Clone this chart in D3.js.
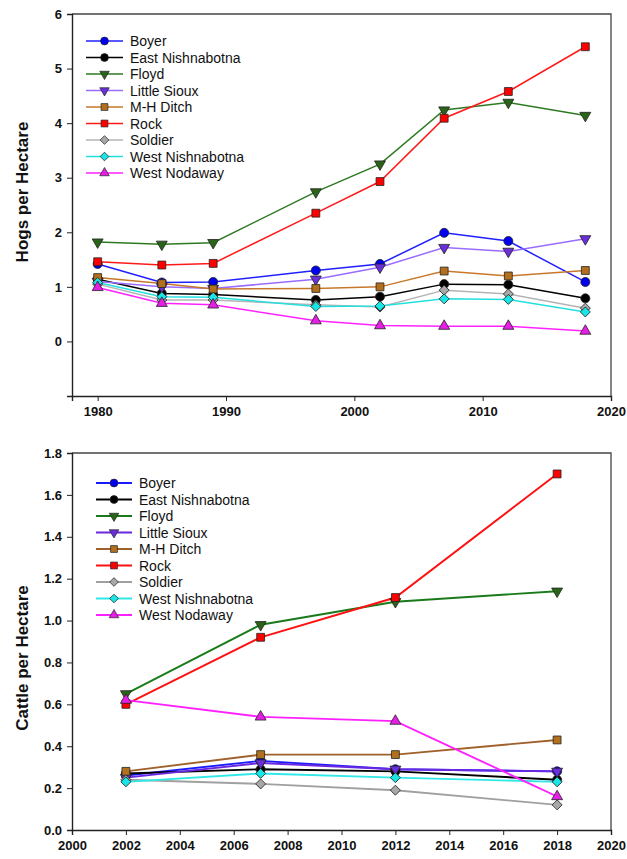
<!DOCTYPE html>
<html>
<head>
<meta charset="utf-8">
<script src="https://cdn.jsdelivr.net/npm/d3@7"></script>
<style>
  html, body { margin: 0; padding: 0; background: #fff; }
  svg { display: block; }
  text { font-family: "Liberation Sans", Arial, sans-serif; }
</style>
</head>
<body>
<svg id="chart" width="627" height="859"></svg>
<script>
// Watershed names, in legend order
const watersheds = ["Boyer", "East Nishnabotna", "Floyd", "Little Sioux", "M-H Ditch",
  "Rock", "Soldier", "West Nishnabotna", "West Nodaway"];

// Hog density (hogs per hectare) by census year
const hogYears = [1980, 1985, 1989, 1997, 2002, 2007, 2012, 2018];
const hogsBoyer           = [1.42, 1.08, 1.09, 1.30, 1.42, 1.99, 1.84, 1.09];
const hogsEastNishnabotna = [1.14, 0.88, 0.86, 0.76, 0.82, 1.05, 1.04, 0.79];
const hogsFloyd           = [1.82, 1.78, 1.81, 2.74, 3.25, 4.24, 4.38, 4.14];
const hogsLittleSioux     = [1.10, 1.00, 0.97, 1.14, 1.36, 1.72, 1.65, 1.88];
const hogsMHDitch         = [1.17, 1.06, 0.96, 0.97, 1.00, 1.29, 1.20, 1.30];
const hogsRock            = [1.46, 1.40, 1.43, 2.35, 2.93, 4.09, 4.58, 5.40];
const hogsSoldier         = [1.05, 0.76, 0.76, 0.67, 0.63, 0.94, 0.87, 0.61];
const hogsWestNishnabotna = [1.08, 0.82, 0.81, 0.64, 0.65, 0.78, 0.77, 0.54];
const hogsWestNodaway     = [0.99, 0.70, 0.67, 0.38, 0.29, 0.28, 0.28, 0.19];

// Cattle density (cattle per hectare) by census year
const cattleYears = [2002, 2007, 2012, 2018];
const cattleBoyer           = [0.26, 0.33, 0.29, 0.28];
const cattleEastNishnabotna = [0.27, 0.29, 0.28, 0.24];
const cattleFloyd           = [0.65, 0.98, 1.09, 1.14];
const cattleLittleSioux     = [0.25, 0.32, 0.29, 0.28];
const cattleMHDitch         = [0.28, 0.36, 0.36, 0.43];
const cattleRock            = [0.60, 0.92, 1.11, 1.70];
const cattleSoldier         = [0.24, 0.22, 0.19, 0.12];
const cattleWestNishnabotna = [0.23, 0.27, 0.25, 0.23];
const cattleWestNodaway     = [0.62, 0.54, 0.52, 0.16];

// Axis tick values
const hogXTicks = [1980, 1990, 2000, 2010, 2020];
const hogYTicks = [0, 1, 2, 3, 4, 5, 6];
const cattleXTicks = [2000, 2002, 2004, 2006, 2008, 2010, 2012, 2014, 2016, 2018, 2020];
const cattleYTicks = [0, 0.2, 0.4, 0.6, 0.8, 1.0, 1.2, 1.4, 1.6, 1.8];

// Marker shape and fill per watershed
const markers = [
  { fill: "#0000ee", shape: "circle" },
  { fill: "#000000", shape: "circle" },
  { fill: "#2a6418", shape: "tridown" },
  { fill: "#6a2fd8", shape: "tridown" },
  { fill: "#b2701e", shape: "square" },
  { fill: "#ff0000", shape: "square" },
  { fill: "#a8a8a8", shape: "diamond" },
  { fill: "#18e6e6", shape: "diamond" },
  { fill: "#e61ee6", shape: "triangle" }
];
// Line colours for each panel
const hogLineColors = ["#2020ff", "#000000", "#2e7a22", "#9a6cff", "#c8782a",
  "#ff1a1a", "#b4b4b4", "#22e0e0", "#ff22ff"];
const cattleLineColors = ["#1a1aff", "#000000", "#1a7a1a", "#6a28e0", "#a0602a",
  "#ff1010", "#a0a0a0", "#30e8e8", "#ff20ff"];

const hogSeries = [hogsBoyer, hogsEastNishnabotna, hogsFloyd, hogsLittleSioux, hogsMHDitch,
  hogsRock, hogsSoldier, hogsWestNishnabotna, hogsWestNodaway];
const cattleSeries = [cattleBoyer, cattleEastNishnabotna, cattleFloyd, cattleLittleSioux, cattleMHDitch,
  cattleRock, cattleSoldier, cattleWestNishnabotna, cattleWestNodaway];

const svg = d3.select("#chart");

function symbolPath(shape, scale) {
  const k = scale || 1;
  switch (shape) {
    case "circle": return d3.symbol(d3.symbolCircle, 64 * k)();
    case "square": return d3.symbol(d3.symbolSquare, 62 * k)();
    case "diamond": return d3.symbol(d3.symbolSquare, 50 * k)();
    default: return d3.symbol(d3.symbolTriangle, 52 * k)();
  }
}
function symbolRotation(shape) {
  if (shape === "tridown") return 180;
  if (shape === "diamond") return 45;
  return 0;
}

function drawPanel(cfg) {
  const g = svg.append("g");
  const x = d3.scaleLinear().domain(cfg.xDomain).range([cfg.left, cfg.right]);
  const y = d3.scaleLinear().domain(cfg.yDomain).range([cfg.bottom, cfg.top]);

  // frame (top and right edges)
  g.append("path")
    .attr("d", `M${cfg.left},${cfg.top}H${cfg.right}V${cfg.bottom}`)
    .attr("fill", "none").attr("stroke", "#444").attr("stroke-width", 1.3);

  const xAxis = d3.axisBottom(x).tickValues(cfg.xTicks).tickSize(5).tickPadding(6)
    .tickFormat(d3.format("d"));
  const yAxis = d3.axisLeft(y).tickValues(cfg.yTicks).tickSize(5).tickPadding(5)
    .tickFormat(cfg.yFormat);

  const gx = g.append("g").attr("transform", `translate(0,${cfg.bottom})`).call(xAxis);
  const gy = g.append("g").attr("transform", `translate(${cfg.left},0)`).call(yAxis);
  [gx, gy].forEach(a => {
    a.select(".domain").attr("stroke", "#222").attr("stroke-width", 1.4);
    a.selectAll(".tick line").attr("stroke", "#222").attr("stroke-width", 1);
    a.selectAll(".tick text")
      .attr("fill", "#111")
      .style("font-family", "'Liberation Sans', Arial, sans-serif")
      .style("font-size", "13px").style("font-weight", "bold");
  });

  // y axis title
  g.append("text")
    .attr("transform", `translate(${cfg.titleX},${cfg.titleY}) rotate(-90)`)
    .attr("text-anchor", "middle")
    .style("font-size", "17px").style("font-weight", "bold").attr("fill", "#111")
    .text(cfg.title);

  // series lines then markers
  const line = d3.line().x((d, i) => x(cfg.years[i])).y(d => y(d));
  cfg.series.forEach((vals, s) => {
    g.append("path").datum(vals)
      .attr("d", line).attr("fill", "none")
      .attr("stroke", cfg.lineColors[s]).attr("stroke-width", cfg.lineWidth);
  });
  cfg.series.forEach((vals, s) => {
    g.selectAll(null).data(vals).join("path")
      .attr("d", symbolPath(markers[s].shape))
      .attr("transform", (d, i) => `translate(${x(cfg.years[i])},${y(d)}) rotate(${symbolRotation(markers[s].shape)})`)
      .attr("fill", markers[s].fill).attr("stroke", "#222").attr("stroke-width", 0.8);
  });

  // legend
  const lg = g.append("g");
  watersheds.forEach((name, s) => {
    const ly = cfg.legendY + s * cfg.legendStep;
    lg.append("line")
      .attr("x1", cfg.legendX0).attr("x2", cfg.legendX1)
      .attr("y1", ly).attr("y2", ly)
      .attr("stroke", cfg.lineColors[s]).attr("stroke-width", cfg.lineWidth);
    lg.append("path")
      .attr("d", symbolPath(markers[s].shape, 0.75))
      .attr("transform", `translate(${(cfg.legendX0 + cfg.legendX1) / 2},${ly}) rotate(${symbolRotation(markers[s].shape)})`)
      .attr("fill", markers[s].fill).attr("stroke", "#222").attr("stroke-width", 0.7);
    lg.append("text")
      .attr("x", cfg.legendTextX).attr("y", ly).attr("dy", "0.36em")
      .style("font-size", "14px").attr("fill", "#111")
      .text(name);
  });
}

drawPanel({
  xDomain: [1978, 2020], yDomain: [-1, 6],
  left: 72, right: 611, top: 14, bottom: 396,
  xTicks: hogXTicks, yTicks: hogYTicks, yFormat: d3.format("d"),
  years: hogYears, series: hogSeries, lineColors: hogLineColors, lineWidth: 1.5,
  title: "Hogs per Hectare", titleX: 28, titleY: 192,
  legendY: 41, legendStep: 16.5, legendX0: 86, legendX1: 123, legendTextX: 130
});

drawPanel({
  xDomain: [2000, 2020], yDomain: [0, 1.8],
  left: 72, right: 611, top: 453, bottom: 830,
  xTicks: cattleXTicks, yTicks: cattleYTicks, yFormat: d3.format(".1f"),
  years: cattleYears, series: cattleSeries, lineColors: cattleLineColors, lineWidth: 1.9,
  title: "Cattle per Hectare", titleX: 28, titleY: 658,
  legendY: 483, legendStep: 16.5, legendX0: 96, legendX1: 132, legendTextX: 139
});
</script>
</body>
</html>
